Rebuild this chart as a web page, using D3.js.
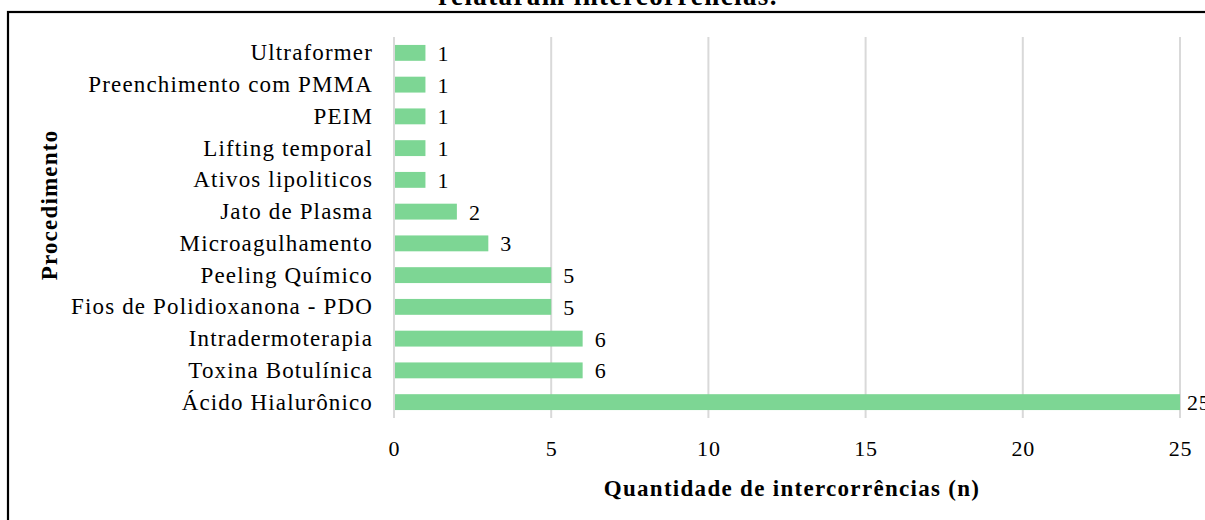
<!DOCTYPE html>
<html><head><meta charset="utf-8">
<script src="https://cdn.jsdelivr.net/npm/d3@7"></script>
<style>body{margin:0;background:#fff}svg{display:block}</style>
</head><body>
<svg id="c" width="1205" height="520"></svg>
<script>
const categories = ["Ultraformer","Preenchimento com PMMA","PEIM","Lifting temporal","Ativos lipoliticos","Jato de Plasma","Microagulhamento","Peeling Químico","Fios de Polidioxanona - PDO","Intradermoterapia","Toxina Botulínica","Ácido Hialurônico"];
const values = [1,1,1,1,1,2,3,5,5,6,6,25];
const ticks = [0,5,10,15,20,25];
const title = "relataram intercorrências.";
const xTitle = "Quantidade de intercorrências (n)";
const yTitle = "Procedimento";

const svg = d3.select("#c");
const font = "'Liberation Serif','Times New Roman',serif";
svg.append("rect").attr("x",8).attr("y",12).attr("width",1300).attr("height",600)
  .attr("fill","none").attr("stroke","#000").attr("stroke-width",2.2);
svg.append("text").attr("x",608).attr("y",5).attr("text-anchor","middle")
  .attr("font-family",font).attr("font-weight","bold").attr("font-size",27)
  .attr("letter-spacing",1.4).text(title);

const x = d3.scaleLinear().domain([0,25]).range([394,1180]);
const y = d3.scaleBand().domain(categories).range([37,418]).paddingInner(0.5).paddingOuter(0.25);

const grid = svg.append("g");
grid.selectAll("line").data(ticks).join("line")
  .attr("x1",d=>x(d)).attr("x2",d=>x(d)).attr("y1",37).attr("y2",418)
  .attr("stroke","#d9d9d9").attr("stroke-width",2);

svg.append("g").selectAll("rect").data(values).join("rect")
  .attr("x",x(0)+1).attr("y",(d,i)=>y(categories[i]))
  .attr("width",d=>x(d)-x(0)-1).attr("height",y.bandwidth())
  .attr("fill","#7dd694");

svg.append("g").selectAll("text").data(values).join("text")
  .attr("x",d=>Math.min(x(d)+12, 1187)).attr("y",(d,i)=>y(categories[i])+y.bandwidth()/2)
  .attr("dy","0.36em").attr("font-family",font).attr("font-size",22).attr("fill","#000")
  .attr("letter-spacing",0.8).text(d=>d);

const yAxis = svg.append("g").attr("transform",`translate(${x(0)},0)`)
  .call(d3.axisLeft(y).tickSize(0).tickPadding(21));
yAxis.select(".domain").remove();
yAxis.selectAll("text").attr("font-family",font).attr("font-size",23).attr("fill","#000")
  .attr("letter-spacing",1.15).attr("dy","0.33em");

const xAxis = svg.append("g").attr("transform","translate(0,418)")
  .call(d3.axisBottom(x).tickValues(ticks).tickSize(0).tickPadding(22));
xAxis.select(".domain").remove();
xAxis.selectAll("text").attr("font-family",font).attr("font-size",22).attr("fill","#000")
  .attr("letter-spacing",0.8);

svg.append("text").attr("x",792).attr("y",496).attr("text-anchor","middle")
  .attr("font-family",font).attr("font-weight","bold").attr("font-size",23)
  .attr("letter-spacing",1.3).text(xTitle);
svg.append("text").attr("transform","translate(57,205) rotate(-90)").attr("text-anchor","middle")
  .attr("font-family",font).attr("font-weight","bold").attr("font-size",23)
  .attr("letter-spacing",1.2).text(yTitle);
</script>
</body></html>
